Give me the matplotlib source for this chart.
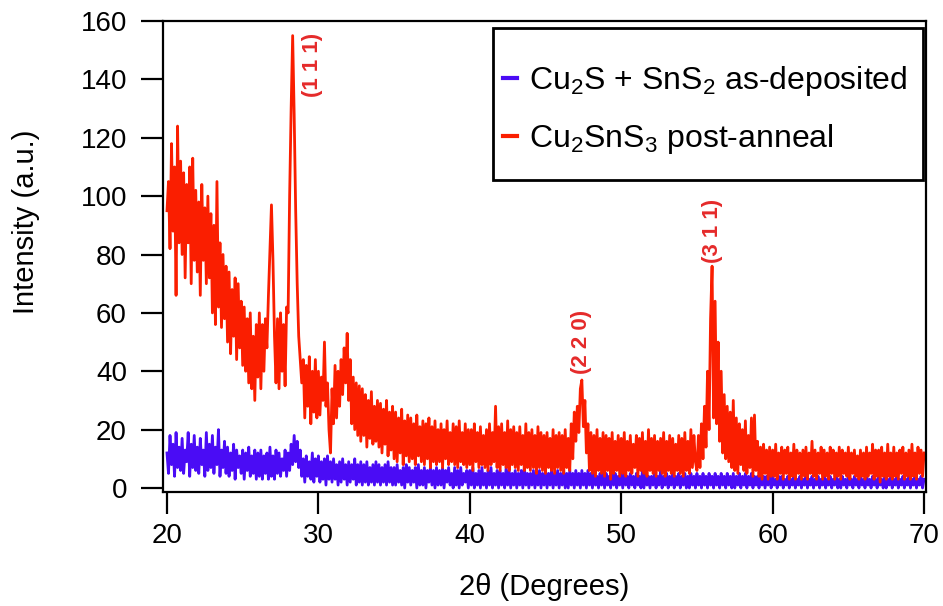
import numpy as np
import matplotlib
matplotlib.use('Agg')
import matplotlib.pyplot as plt
from matplotlib.patches import Rectangle

plt.rcParams['font.family'] = ['Liberation Sans', 'DejaVu Sans']
plt.rcParams['mathtext.default'] = 'regular'

# red: Cu2SnS3 post-anneal, one value every 0.1 deg from 20.0 to 70.0
annealed = [
    95, 105, 82, 118, 88, 110, 66, 124, 84, 112,      # 20
    80, 108, 72, 104, 84, 110, 70, 113, 78, 102,      # 21
    74, 98, 66, 104, 78, 96, 70, 100, 72, 94,         # 22
    60, 90, 56, 105, 62, 84, 55, 80, 58, 76,          # 23
    50, 74, 46, 68, 52, 72, 44, 70, 48, 64,           # 24
    42, 62, 40, 58, 36, 60, 34, 52, 30, 56,           # 25
    38, 60, 34, 56, 40, 58, 48, 66, 82, 97,           # 26
    78, 52, 36, 58, 34, 60, 40, 56, 35, 62,           # 27
    60, 100, 130, 155, 128, 95, 70, 52, 44, 36,       # 28
    44, 24, 42, 28, 45, 22, 40, 26, 44, 24,           # 29
    40, 25, 38, 30, 50, 28, 36, 20, 12, 34,           # 30
    22, 42, 24, 40, 28, 44, 32, 48, 36, 53,           # 31
    30, 44, 22, 38, 20, 36, 18, 35, 16, 34,           # 32
    18, 32, 14, 30, 17, 33, 15, 28, 16, 30,           # 33
    14, 29, 12, 27, 15, 30, 11, 26, 13, 28,           # 34
    10, 26, 9, 24, 12, 27, 8, 23, 11, 25,             # 35
    9, 24, 10, 22, 8, 25, 11, 21, 9, 23,              # 36
    8, 22, 10, 24, 7, 21, 9, 23, 8, 20,               # 37
    9, 22, 7, 20, 10, 23, 8, 19, 9, 22,               # 38
    8, 21, 7, 23, 9, 19, 8, 22, 7, 20,                # 39
    8, 20, 6, 22, 9, 19, 7, 21, 8, 18,                # 40
    7, 20, 6, 22, 8, 19, 9, 28, 7, 21,                # 41
    6, 22, 8, 19, 7, 23, 6, 20, 8, 21,                # 42
    7, 19, 6, 21, 8, 18, 6, 22, 7, 19,                # 43
    6, 20, 7, 18, 5, 21, 7, 19, 6, 18,                # 44
    5, 19, 7, 17, 6, 20, 5, 18, 7, 19,                # 45
    6, 18, 5, 20, 7, 17, 6, 22, 10, 26,               # 46
    16, 28, 19, 34, 37, 21, 30, 12, 22, 6,            # 47
    19, 5, 18, 4, 20, 6, 17, 5, 19, 4,                # 48
    18, 6, 17, 3, 19, 5, 16, 6, 18, 4,                # 49
    17, 5, 19, 4, 16, 6, 18, 5, 15, 7,                # 50
    18, 4, 17, 6, 19, 5, 16, 4, 20, 6,                # 51
    17, 5, 18, 4, 16, 6, 17, 5, 19, 4,                # 52
    16, 6, 18, 5, 17, 4, 15, 6, 18, 5,                # 53
    17, 4, 19, 6, 16, 5, 20, 7, 18, 9,                # 54
    6, 18, 7, 22, 10, 28, 14, 40, 20, 58,             # 55
    76, 24, 64, 22, 50, 16, 40, 12, 32, 10,           # 56
    28, 9, 26, 7, 30, 6, 24, 5, 22, 8,                # 57
    20, 6, 23, 5, 18, 7, 24, 4, 25, 6,                # 58
    16, 4, 14, 3, 15, 5, 13, 3, 14, 4,                # 59
    13, 4, 15, 3, 12, 5, 14, 3, 13, 5,                # 60
    14, 3, 12, 4, 15, 3, 13, 5, 12, 3,                # 61
    13, 4, 14, 3, 12, 5, 16, 4, 13, 3,                # 62
    12, 5, 14, 3, 13, 4, 12, 3, 14, 5,                # 63
    13, 3, 12, 4, 14, 3, 13, 5, 12, 4,                # 64
    14, 3, 12, 5, 13, 4, 11, 3, 13, 4,                # 65
    12, 3, 14, 4, 12, 5, 15, 3, 13, 4,                # 66
    13, 2, 14, 4, 12, 3, 15, 4, 12, 3,                # 67
    14, 4, 12, 3, 13, 5, 14, 3, 12, 4,                # 68
    13, 3, 15, 4, 12, 3, 14, 5, 13, 4,                # 69
    12,
]

# blue: Cu2S + SnS2 as-deposited, same 0.1 deg grid
deposited = [
    12, 5, 18, 8, 15, 4, 19, 7, 14, 6,     # 20
    17, 5, 13, 9, 19, 4, 15, 7, 18, 6,     # 21
    14, 5, 17, 8, 13, 4, 19, 6, 15, 7,     # 22
    18, 5, 14, 8, 20, 4, 13, 7, 16, 5,     # 23
    14, 4, 12, 6, 15, 3, 13, 7, 11, 5,     # 24
    13, 3, 12, 6, 14, 4, 11, 5, 13, 3,     # 25
    12, 4, 13, 3, 11, 5, 12, 3, 14, 4,     # 26
    11, 3, 13, 5, 12, 4, 10, 6, 13, 4,     # 27
    12, 6, 15, 8, 18, 9, 16, 7, 13, 4,     # 28
    10, 2, 11, 4, 9, 3, 12, 2, 10, 4,      # 29
    11, 2, 9, 3, 10, 1, 11, 3, 9, 2,       # 30
    10, 3, 8, 1, 9, 2, 10, 3, 8, 1,        # 31
    9, 2, 8, 3, 10, 1, 8, 2, 9, 1,         # 32
    8, 2, 9, 1, 7, 2, 8, 1, 9, 2,          # 33
    8, 1, 7, 2, 8, 1, 9, 2, 7, 1,          # 34
    7, 1, 8, 2, 6, 1, 7, 0, 8, 2,          # 35
    7, 1, 6, 2, 7, 0, 8, 1, 6, 1,          # 36
    7, 0, 6, 2, 7, 1, 6, 0, 7, 1,          # 37
    6, 1, 7, 0, 6, 2, 7, 1, 5, 0,          # 38
    7, 1, 6, 0, 7, 1, 5, 2, 6, 0,          # 39
    6, 1, 7, 0, 5, 1, 6, 0, 7, 1,          # 40
    5, 0, 6, 1, 7, 0, 5, 1, 6, 0,          # 41
    6, 1, 5, 0, 7, 1, 6, 0, 5, 1,          # 42
    6, 0, 5, 1, 6, 0, 7, 1, 5, 0,          # 43
    5, 1, 6, 0, 5, 1, 6, 0, 5, 1,          # 44
    6, 0, 5, 1, 6, 0, 5, 1, 6, 0,          # 45
    5, 1, 6, 0, 5, 0, 6, 1, 5, 0,          # 46
    6, 1, 5, 0, 6, 1, 5, 0, 6, 1,          # 47
    5, 0, 6, 1, 4, 0, 5, 1, 6, 0,          # 48
    5, 1, 4, 0, 6, 1, 5, 0, 4, 1,          # 49
    5, 0, 6, 1, 4, 0, 5, 1, 4, 0,          # 50
    5, 1, 4, 0, 6, 0, 5, 1, 4, 0,          # 51
    4, 1, 5, 0, 4, 1, 6, 0, 4, 1,          # 52
    5, 0, 4, 1, 5, 0, 4, 1, 5, 0,          # 53
    4, 1, 5, 0, 4, 0, 5, 1, 4, 0,          # 54
    5, 1, 4, 0, 5, 1, 4, 0, 5, 1,          # 55
    4, 0, 5, 1, 4, 0, 5, 1, 4, 0,          # 56
    5, 1, 4, 0, 5, 0, 4, 1, 5, 0,          # 57
    4, 1, 5, 0, 4, 1, 5, 0, 4, 1,          # 58
    4, 0, 5, 1, 4, 0, 4, 1, 5, 0,          # 59
    4, 1, 3, 0, 4, 1, 4, 0, 3, 1,          # 60
    4, 0, 3, 1, 4, 0, 3, 1, 4, 0,          # 61
    3, 1, 4, 0, 3, 1, 4, 0, 3, 1,          # 62
    4, 0, 3, 1, 4, 0, 3, 1, 4, 0,          # 63
    3, 1, 4, 0, 3, 0, 4, 1, 3, 0,          # 64
    4, 1, 3, 0, 4, 1, 3, 0, 4, 1,          # 65
    3, 0, 4, 1, 3, 0, 4, 1, 3, 0,          # 66
    4, 1, 3, 0, 4, 0, 3, 1, 4, 0,          # 67
    3, 1, 4, 0, 3, 1, 4, 0, 3, 1,          # 68
    4, 0, 3, 1, 4, 0, 3, 1, 4, 0,          # 69
    3,
]

x_annealed = np.linspace(20, 70, len(annealed))
x_deposited = np.linspace(20, 70, len(deposited))

peak_labels = ['(1 1 1)', '(2 2 0)', '(3 1 1)']
peak_x = [29.6, 47.4, 56.05]
peak_y = [134, 39, 77]

red = '#fa1e00'
blue = '#4a0cf5'

fig = plt.figure(figsize=(9.43, 6.06), dpi=100)
ax = fig.add_axes([0.1729, 0.188, 0.8091, 0.7773])

ax.plot(x_deposited, deposited, color=blue, lw=2.0,
        label='Cu$_2$S + SnS$_2$ as-deposited')
ax.plot(x_annealed, annealed, color=red, lw=2.0,
        label='Cu$_2$SnS$_3$ post-anneal')

for lab, px, py in zip(peak_labels, peak_x, peak_y):
    ax.text(px, py, lab, rotation=90, ha='center', va='bottom',
            color='#e52a2a', fontsize=16, fontweight='bold')

ax.set_xlim(19.74, 70.13)
ax.set_ylim(-1.4, 160)
ax.set_xticks(range(20, 71, 10))
ax.set_yticks(range(0, 161, 20))
ax.tick_params(direction='out', length=16, width=1.6, labelsize=20)
ax.tick_params(axis='x', pad=6)
ax.tick_params(axis='y', pad=10)
for s in ax.spines.values():
    s.set_linewidth(1.6)

ax.set_xlabel('2θ (Degrees)', fontsize=21)
ax.set_ylabel('Intensity (a.u.)', fontsize=21)
ax.xaxis.set_label_coords(0.5, -0.172)
ax.yaxis.set_label_coords(-0.161, 0.573)

# legend entries without frame, box drawn separately
leg = ax.legend(loc='upper left', bbox_to_anchor=(0.4456, 0.908), borderaxespad=0,
                borderpad=0, fontsize=23, handlelength=0.45, handletextpad=0.35,
                labelspacing=0.75, frameon=False)
for h in leg.get_lines():
    h.set_linewidth(3)
ax.add_patch(Rectangle((0.4325, 0.6624), 0.5636, 0.3227, transform=ax.transAxes,
                       fill=False, edgecolor='black', lw=2, zorder=5))

fig.savefig('out.png', dpi=100)
